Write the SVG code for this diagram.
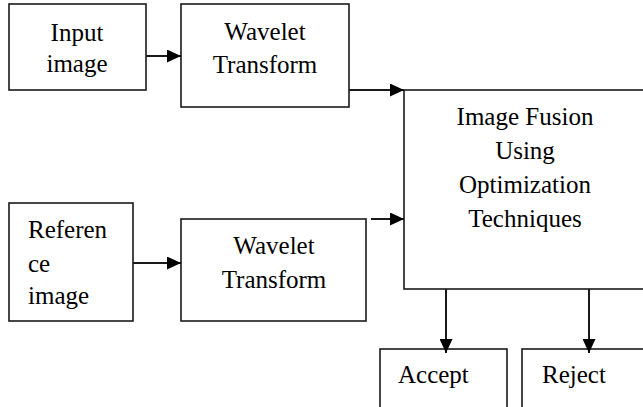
<svg xmlns="http://www.w3.org/2000/svg" width="643" height="407" viewBox="0 0 643 407">
<style>
.box{fill:#fff;stroke:#1a1a1a;stroke-width:1.6}
.t{font-family:"Liberation Serif","Times New Roman",Tinos,"Noto Serif","DejaVu Serif",FreeSerif,Times,serif;font-size:25px;fill:#000}
.c{text-anchor:middle}
.ln{stroke:#1a1a1a;stroke-width:2;fill:none}
</style>
<defs>
<marker id="ah" markerWidth="14" markerHeight="13" refX="14" refY="6.5" orient="auto" markerUnits="userSpaceOnUse">
<path d="M0,0 L14,6.5 L0,13 Z" fill="#000"/>
</marker>
</defs>
<rect width="643" height="407" fill="#fff"/>
<g id="input">
<rect class="box" x="9" y="4" width="137" height="86"/>
<text class="t c" x="77" y="41">Input</text>
<text class="t c" x="77" y="72">image</text>
</g>
<g id="wavelet1">
<rect class="box" x="181" y="4" width="168" height="103"/>
<text class="t c" x="265" y="40">Wavelet</text>
<text class="t c" x="265" y="73">Transform</text>
</g>
<g id="reference">
<rect class="box" x="9" y="203" width="124" height="118"/>
<text class="t" x="28" y="238">Referen</text>
<text class="t" x="28" y="272">ce</text>
<text class="t" x="28" y="304">image</text>
</g>
<g id="wavelet2">
<rect class="box" x="181" y="219" width="185" height="102"/>
<text class="t c" x="274" y="254">Wavelet</text>
<text class="t c" x="274" y="288">Transform</text>
</g>
<g id="fusion">
<rect class="box" x="404" y="90" width="250" height="199"/>
<text class="t c" x="525" y="125">Image Fusion</text>
<text class="t c" x="525" y="159">Using</text>
<text class="t c" x="525" y="193">Optimization</text>
<text class="t c" x="525" y="227">Techniques</text>
</g>
<g id="accept">
<rect class="box" x="380" y="349" width="127" height="70"/>
<text class="t" x="398" y="383">Accept</text>
</g>
<g id="reject">
<rect class="box" x="522" y="349" width="130" height="70"/>
<text class="t" x="542" y="383">Reject</text>
</g>
<g id="connectors">
<line class="ln" x1="146" y1="56" x2="181" y2="56" marker-end="url(#ah)"/>
<line class="ln" x1="349" y1="90" x2="404" y2="90" marker-end="url(#ah)"/>
<line class="ln" x1="133" y1="263" x2="181" y2="263" marker-end="url(#ah)"/>
<line class="ln" x1="371" y1="219" x2="404" y2="219" marker-end="url(#ah)"/>
<line class="ln" x1="446" y1="289" x2="446" y2="353" marker-end="url(#ah)"/>
<line class="ln" x1="589" y1="289" x2="589" y2="353" marker-end="url(#ah)"/>
</g>
</svg>
